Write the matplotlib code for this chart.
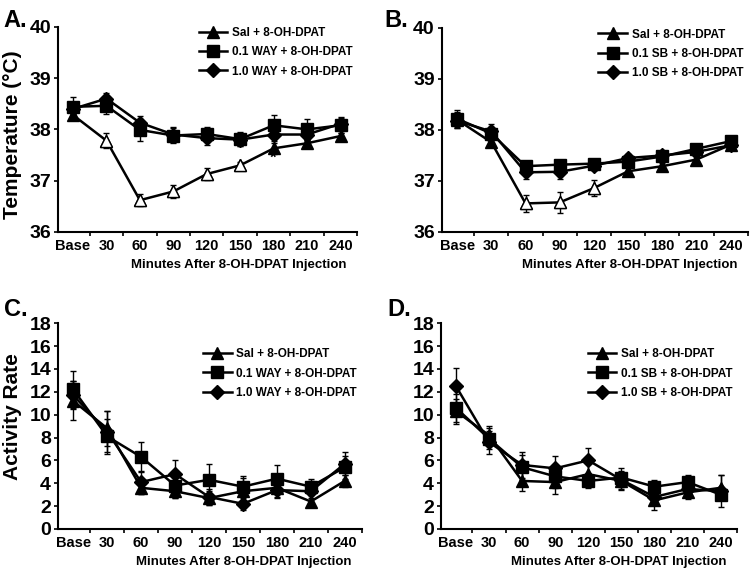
import matplotlib
matplotlib.use("Agg")
import matplotlib.pyplot as plt

plt.rcParams['font.family'] = ['Liberation Sans', 'DejaVu Sans']
plt.rcParams['font.weight'] = 'bold'

times = ["Base", "30", "60", "90", "120", "150", "180", "210", "240"]
x = list(range(len(times)))

# A. temperature, WAY
a_sal = [38.28, 37.78, 36.62, 36.79, 37.13, 37.30, 37.63, 37.73, 37.87]
a_sal_err = [0.10, 0.15, 0.12, 0.13, 0.12, 0.07, 0.10, 0.06, 0.06]
a_sal_open = [1, 2, 3, 4, 5]
a_low = [38.44, 38.46, 37.99, 37.88, 37.91, 37.81, 38.08, 38.00, 38.08]
a_low_err = [0.20, 0.16, 0.22, 0.15, 0.13, 0.13, 0.20, 0.20, 0.15]
a_high = [38.40, 38.60, 38.13, 37.90, 37.83, 37.80, 37.90, 37.90, 38.11]
a_high_err = [0.12, 0.10, 0.14, 0.14, 0.14, 0.12, 0.12, 0.12, 0.14]

# B. temperature, SB
b_sal = [38.20, 37.76, 36.56, 36.58, 36.86, 37.19, 37.29, 37.42, 37.71]
b_sal_err = [0.15, 0.10, 0.17, 0.20, 0.15, 0.10, 0.07, 0.07, 0.05]
b_sal_open = [2, 3, 4]
b_low = [38.22, 37.93, 37.29, 37.32, 37.34, 37.38, 37.48, 37.63, 37.78]
b_low_err = [0.18, 0.12, 0.08, 0.08, 0.07, 0.08, 0.06, 0.06, 0.05]
b_high = [38.18, 37.97, 37.17, 37.18, 37.30, 37.45, 37.50, 37.57, 37.70]
b_high_err = [0.15, 0.14, 0.14, 0.14, 0.08, 0.07, 0.06, 0.06, 0.05]

# C. activity, WAY
c_sal = [11.2, 8.8, 3.6, 3.3, 2.7, 3.3, 3.6, 2.4, 4.2]
c_sal_err = [1.7, 1.5, 0.5, 0.6, 0.6, 1.2, 0.9, 0.3, 0.5]
c_low = [12.2, 8.1, 6.3, 3.8, 4.3, 3.7, 4.4, 3.7, 5.4]
c_low_err = [1.6, 1.5, 1.3, 1.1, 1.4, 0.9, 1.2, 0.7, 1.0]
c_high = [11.7, 8.5, 4.1, 4.8, 2.8, 2.2, 3.4, 3.3, 5.7]
c_high_err = [1.2, 1.8, 1.0, 1.2, 0.7, 0.5, 0.6, 0.9, 1.0]

# D. activity, SB
d_sal = [10.3, 8.2, 4.2, 4.1, 4.8, 4.2, 2.5, 3.2, 3.6]
d_sal_err = [1.1, 0.8, 0.9, 1.0, 1.0, 0.8, 0.8, 0.6, 1.1]
d_low = [10.6, 7.9, 5.4, 4.6, 4.2, 4.5, 3.7, 4.1, 3.0]
d_low_err = [1.2, 0.9, 1.1, 1.0, 0.6, 0.8, 0.6, 0.6, 0.4]
d_high = [12.5, 7.6, 5.6, 5.3, 6.0, 4.3, 2.8, 3.5, 3.3]
d_high_err = [1.6, 1.0, 1.1, 1.1, 1.1, 0.8, 0.6, 0.5, 1.4]

way_names = ["Sal + 8-OH-DPAT", "0.1 WAY + 8-OH-DPAT", "1.0 WAY + 8-OH-DPAT"]
sb_names = ["Sal + 8-OH-DPAT", "0.1 SB + 8-OH-DPAT", "1.0 SB + 8-OH-DPAT"]


def panel(ax, series, names, ylim, yticks, legend_y, sal_open=()):
    markers = ['^', 's', 'D']
    sizes = [9, 8, 7]
    handles = []
    for (vals, errs), m, ms, name in zip(series, markers, sizes, names):
        ax.errorbar(x, vals, yerr=errs, fmt='none', ecolor='black',
                    elinewidth=1, capsize=2.5, capthick=1, zorder=2)
        h, = ax.plot(x, vals, color='black', lw=1.8, marker=m, ms=ms,
                     mfc='black', mec='black', label=name, zorder=3)
        handles.append(h)
    if sal_open:
        sal = series[0][0]
        ax.plot(list(sal_open), [sal[i] for i in sal_open], ls='none',
                marker='^', ms=9, mfc='white', mec='black', mew=1, zorder=4)
    ax.set_xlim(-0.45, 8.5)
    ax.set_ylim(*ylim)
    ax.set_yticks(yticks)
    ax.set_xticks(x)
    ax.set_xticklabels(times, fontsize=10.5, fontweight='bold')
    ax.set_xticks([i + 0.5 for i in x], minor=True)
    ax.tick_params(axis='x', which='major', length=0, pad=5)
    ax.tick_params(axis='x', which='minor', length=3, width=1.2, direction='out')
    ax.tick_params(axis='y', labelsize=14, length=3, width=1.2, pad=2)
    for t in ax.get_yticklabels():
        t.set_fontweight('bold')
    for s in ['top', 'right']:
        ax.spines[s].set_visible(False)
    for s in ['left', 'bottom']:
        ax.spines[s].set_linewidth(1.5)
    ax.legend(handles=handles, loc='upper right', bbox_to_anchor=(1.0, legend_y),
              frameon=False, prop={'size': 8.5, 'weight': 'bold'},
              handlelength=2.4, handletextpad=0.4, labelspacing=0.6,
              borderaxespad=0)
    ax.text(0.965, -0.16, "Minutes After 8-OH-DPAT Injection", transform=ax.transAxes,
            ha='right', va='center', fontsize=9.5, fontweight='bold')


fig = plt.figure(figsize=(7.5, 5.7), dpi=100)
axA = fig.add_axes([0.0773, 0.593, 0.399, 0.360])
axB = fig.add_axes([0.589, 0.593, 0.408, 0.358])
axC = fig.add_axes([0.0773, 0.072, 0.405, 0.361])
axD = fig.add_axes([0.588, 0.072, 0.395, 0.361])

panel(axA, [(a_sal, a_sal_err), (a_low, a_low_err), (a_high, a_high_err)],
      way_names, (36, 40), [36, 37, 38, 39, 40], 1.02, a_sal_open)
axA.text(6, 37.43, "*", ha='center', va='center', fontsize=12, fontweight='bold')
panel(axB, [(b_sal, b_sal_err), (b_low, b_low_err), (b_high, b_high_err)],
      sb_names, (36, 40), [36, 37, 38, 39, 40], 1.02, b_sal_open)
panel(axC, [(c_sal, c_sal_err), (c_low, c_low_err), (c_high, c_high_err)],
      way_names, (0, 18), list(range(0, 19, 2)), 0.9)
panel(axD, [(d_sal, d_sal_err), (d_low, d_low_err), (d_high, d_high_err)],
      sb_names, (0, 18), list(range(0, 19, 2)), 0.9)

fig.text(0.005, 0.985, "A.", fontsize=17, fontweight='bold', va='top')
fig.text(0.513, 0.985, "B.", fontsize=17, fontweight='bold', va='top')
fig.text(0.005, 0.478, "C.", fontsize=17, fontweight='bold', va='top')
fig.text(0.516, 0.478, "D.", fontsize=17, fontweight='bold', va='top')
fig.text(0.017, 0.763, "Temperature (°C)", rotation=90, ha='center', va='center',
         fontsize=15, fontweight='bold')
fig.text(0.017, 0.27, "Activity Rate", rotation=90, ha='center', va='center',
         fontsize=15, fontweight='bold')

fig.savefig("out.png", dpi=100)
